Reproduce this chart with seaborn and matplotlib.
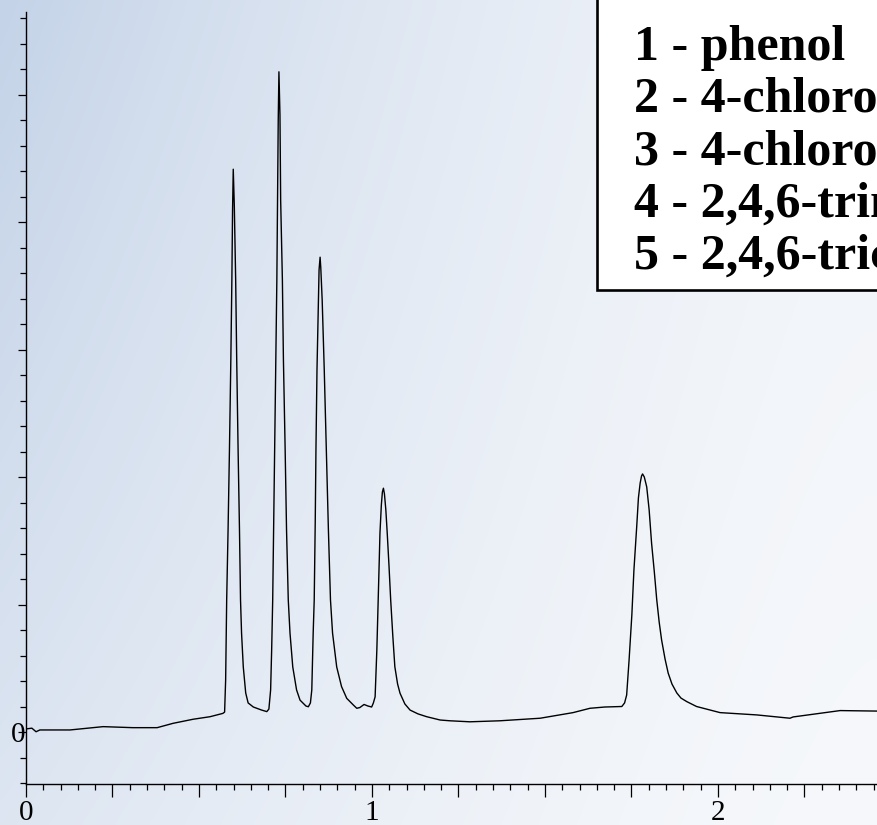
import numpy as np
import pandas as pd
import matplotlib
matplotlib.use("Agg")
import matplotlib.pyplot as plt
import seaborn as sns
from matplotlib.patches import Rectangle
from matplotlib.ticker import MultipleLocator, FuncFormatter

# ---- data (retention time in min, detector signal) ----
time = [0.000, 0.017, 0.029, 0.040, 0.127, 0.223, 0.309, 0.379, 0.425, 0.483, 0.532, 0.569,
        # peak 1
        0.574, 0.577, 0.580, 0.584, 0.588, 0.592, 0.595, 0.597, 0.599, 0.602, 0.606, 0.609,
        0.613, 0.617, 0.620, 0.623, 0.628, 0.635, 0.642, 0.657, 0.681, 0.696,
        # peak 2
        0.702, 0.707, 0.710, 0.713, 0.716, 0.719, 0.722, 0.725, 0.727, 0.729, 0.731, 0.734,
        0.736, 0.741, 0.744, 0.749, 0.753, 0.758, 0.763, 0.771, 0.782, 0.792, 0.809, 0.816,
        # peak 3
        0.822, 0.826, 0.828, 0.830, 0.833, 0.836, 0.838, 0.841, 0.845, 0.847, 0.850, 0.852,
        0.856, 0.862, 0.868, 0.874, 0.880, 0.886, 0.898, 0.912, 0.927, 0.946, 0.956, 0.965,
        0.977, 0.988, 0.999,
        # peak 4
        1.004, 1.009, 1.012, 1.014, 1.018, 1.021, 1.023, 1.027, 1.030, 1.033, 1.036, 1.040,
        1.044, 1.049, 1.054, 1.060, 1.066, 1.074, 1.081, 1.095, 1.110, 1.133, 1.158, 1.197,
        1.225, 1.283, 1.370, 1.486, 1.581, 1.630, 1.673, 1.722,
        # peak 5
        1.730, 1.736, 1.743, 1.751, 1.757, 1.765, 1.770, 1.775, 1.779, 1.782, 1.787, 1.794,
        1.801, 1.808, 1.816, 1.823, 1.830, 1.837, 1.847, 1.856, 1.867, 1.881, 1.893, 1.910,
        1.938, 2.006, 2.112, 2.208, 2.217, 2.353, 2.462]

signal = [0.12, 0.15, 0.01, 0.08, 0.08, 0.21, 0.17, 0.17, 0.34, 0.50, 0.60, 0.73,
          0.78, 2.04, 5.18, 7.92, 11.06, 14.59, 17.73, 20.47, 22.07, 20.67, 17.73, 14.59,
          11.06, 7.92, 5.18, 3.88, 2.55, 1.53, 1.14, 0.98, 0.86, 0.80,
          0.90, 1.65, 3.22, 5.18, 8.31, 11.45, 14.59, 17.73, 20.86, 24.00, 25.89, 24.20,
          20.86, 17.73, 14.59, 11.06, 7.92, 5.18, 3.88, 2.55, 1.65, 1.25, 1.02, 0.99,
          1.14, 1.65, 2.82, 3.88, 5.18, 8.31, 11.06, 14.20, 16.94, 18.12, 18.62, 18.20,
          16.94, 14.20, 11.06, 7.92, 5.18, 3.88, 2.55, 1.78, 1.32, 1.06, 0.93, 0.96,
          1.08, 1.02, 0.98,
          1.14, 1.38, 2.43, 3.22, 5.18, 6.75, 7.80, 8.90, 9.41, 9.56, 9.33, 8.71,
          7.80, 6.55, 5.18, 3.80, 2.56, 1.88, 1.52, 1.10, 0.86, 0.71, 0.60, 0.47,
          0.44, 0.40, 0.44, 0.54, 0.76, 0.93, 0.98, 1.00,
          1.14, 1.45, 2.82, 4.59, 6.35, 8.04, 9.18, 9.76, 10.04, 10.12, 10.00, 9.61,
          8.71, 7.41, 6.27, 5.18, 4.31, 3.61, 2.86, 2.31, 1.88, 1.53, 1.33, 1.19,
          1.00, 0.76, 0.67, 0.54, 0.59, 0.84, 0.82]

x_tick_labels = ["0", "1", "2"]
y_tick_labels = ["0"]
legend_lines = ["1 - phenol",
                "2 - 4-chlorophenol",
                "3 - 4-chloro-3-methylphenol",
                "4 - 2,4,6-trimethylphenol",
                "5 - 2,4,6-trichlorophenol"]

df = pd.DataFrame({"time": time, "signal": signal})

sns.set_theme(style="white")
plt.rcParams["font.family"] = ["Liberation Serif", "DejaVu Serif"]

W, H, DPI = 878, 825, 100
fig = plt.figure(figsize=(W / DPI, H / DPI), dpi=DPI)

# background gradient (slide-like pale blue)
bg = fig.add_axes([0, 0, 1, 1], zorder=-10)
gx, gy = np.meshgrid(np.linspace(0, 1, 300), np.linspace(1, 0, 300))
w = np.clip((1 - gx) ** 1.5 * (0.5 + 0.5 * gy) + 0.10 * gy * gx, 0, 1)
dark = np.array([196, 211, 232]) / 255
light = np.array([246, 248, 251]) / 255
img = light[None, None, :] * (1 - w[..., None]) + dark[None, None, :] * w[..., None]
bg.imshow(img, aspect="auto", extent=[0, 1, 0, 1], interpolation="bilinear")
bg.set_axis_off()

# main axes
left_px, right_px, bottom_px, top_px = 26, 878, 784, 12
ax = fig.add_axes([left_px / W, (H - bottom_px) / H,
                   (right_px - left_px) / W, (bottom_px - top_px) / H])
ax.set_facecolor("none")

sns.lineplot(data=df, x="time", y="signal", ax=ax, color="black",
             linewidth=1.0, estimator=None, sort=False)

ax.set_xlim(0, 852 / 346)
ax.set_ylim(-52 / 25.5, 720 / 25.5)
ax.set_xlabel("")
ax.set_ylabel("")

for s in ["top", "right"]:
    ax.spines[s].set_visible(False)
for s in ["left", "bottom"]:
    ax.spines[s].set_color("black")
    ax.spines[s].set_linewidth(1.0)

ax.xaxis.set_major_locator(MultipleLocator(0.25))
ax.xaxis.set_minor_locator(MultipleLocator(0.05))
ax.xaxis.set_major_formatter(FuncFormatter(
    lambda v, p: x_tick_labels[int(round(v))]
    if abs(v - round(v)) < 1e-6 and 0 <= int(round(v)) < len(x_tick_labels) else ""))
ax.yaxis.set_major_locator(MultipleLocator(5))
ax.yaxis.set_minor_locator(MultipleLocator(1))
ax.yaxis.set_major_formatter(FuncFormatter(
    lambda v, p: y_tick_labels[0] if abs(v) < 1e-6 else ""))

ax.tick_params(axis="x", which="major", direction="out", length=9.4, width=0.9,
               color="black", labelsize=21, pad=2, bottom=True)
ax.tick_params(axis="x", which="minor", direction="out", length=4.3, width=0.9,
               color="black", bottom=True)
ax.tick_params(axis="y", which="major", direction="out", length=5.8, width=0.9,
               color="black", labelsize=21, pad=-5.5, left=True)
ax.tick_params(axis="y", which="minor", direction="out", length=4.3, width=0.9,
               color="black", left=True)
for lab in ax.get_xticklabels() + ax.get_yticklabels():
    lab.set_color("black")

# legend box with compound names
box = Rectangle((597 / W, (H - 290) / H), 1.0, 1.0, transform=fig.transFigure,
                facecolor="white", edgecolor="black", linewidth=1.9, zorder=5)
fig.patches.append(box)
for i, txt in enumerate(legend_lines):
    bl = 60 + 52.3 * i
    fig.text(634 / W, (H - bl) / H, txt, fontsize=36, fontweight="bold",
             family=["Liberation Serif", "DejaVu Serif"], va="baseline", ha="left",
             color="black", zorder=6)

fig.savefig("out.png", dpi=DPI)
